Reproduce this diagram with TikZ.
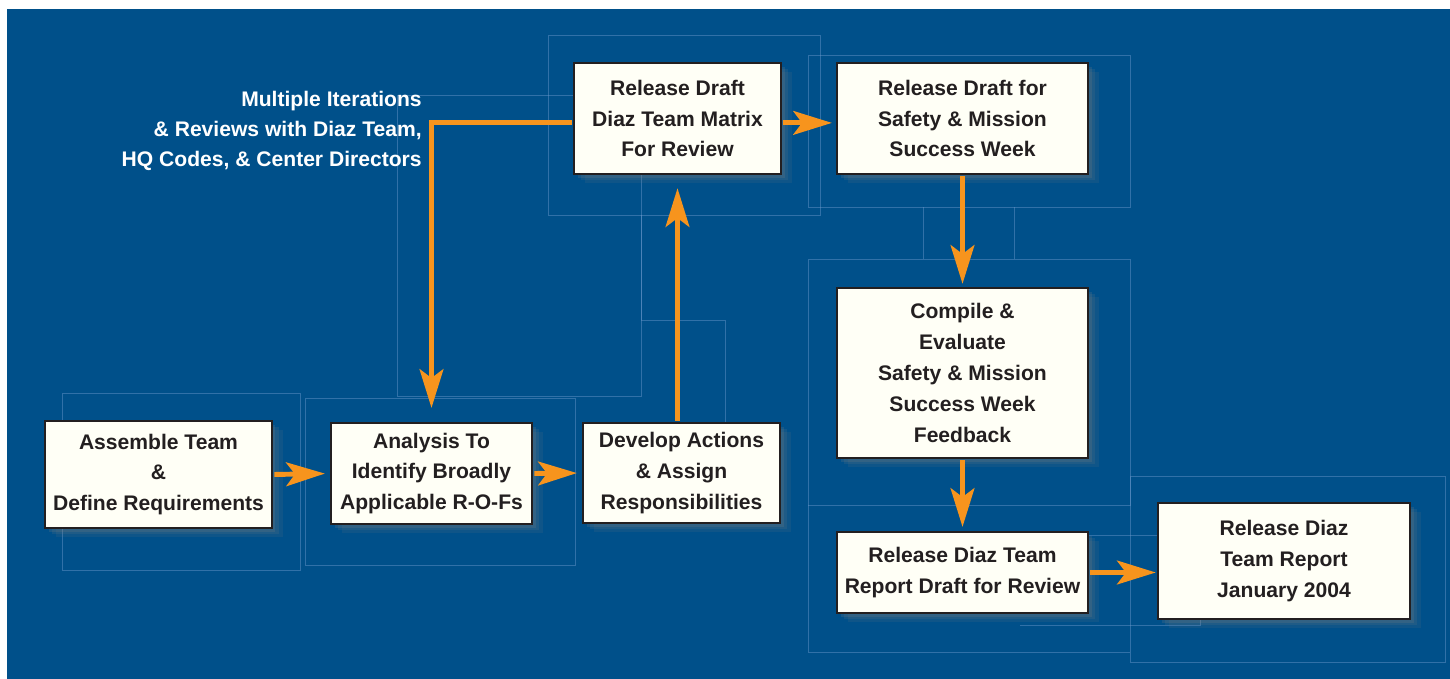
\documentclass[tikz,border=0pt]{standalone}
\usepackage{fontspec}
\setmainfont{Liberation Sans}
\usetikzlibrary{arrows.meta,positioning,shadows}
\definecolor{bgblue}{RGB}{0,80,138}
\definecolor{cream}{RGB}{255,255,246}
\definecolor{arrorange}{RGB}{247,148,29}
\definecolor{inkgray}{RGB}{35,31,32}
\definecolor{gridblue}{RGB}{110,155,205}
\begin{document}
\begin{tikzpicture}[x=0.02cm,y=-0.02cm,
box/.style={draw=inkgray,line width=1.4pt,fill=cream,text=inkgray,align=center,inner sep=0pt,
  font=\bfseries\fontsize{12}{17.6}\selectfont,
  drop shadow={shadow xshift=6pt,shadow yshift=-5pt,opacity=.12},
  drop shadow={shadow xshift=4pt,shadow yshift=-3.5pt,opacity=.15},
  drop shadow={shadow xshift=2pt,shadow yshift=-2pt,opacity=.2}},
flow/.style={draw=arrorange,line width=2.8pt,shorten <=.7pt,-{Stealth[length=22pt,width=13.5pt,inset=5pt]}},
faint/.style={draw=gridblue,line width=.5pt,opacity=.45},
lbl/.style={text=white,align=right,inner sep=0pt,font=\bfseries\fontsize{12}{17}\selectfont}]
\useasboundingbox (0,0) rectangle (1450,679);
\fill[white] (0,0) rectangle (1450,679);
\fill[bgblue] (7,9) rectangle (1450,679);
\foreach \a/\b/\c/\d in {62/393/300/570,305/398/575/565,548/35/820/215,808/55/1130/207,
  808/259/1130/505,1130/476/1445/662,397/95/641/396}
  \draw[faint] (\a,\b) rectangle (\c,\d);
\draw[faint] (641,215) -- (641,320) -- (725,320) -- (725,423);
\draw[faint] (923,207) -- (923,259) (1014,207) -- (1014,259);
\draw[faint] (808,505) -- (808,652) -- (1130,652);
\draw[faint] (1020,535) -- (1200,535) -- (1200,625) -- (1020,625);
\node[box,minimum width=4.54cm,minimum height=2.14cm] (A1) at (158.5,474.5) {Assemble Team\\\&\\Define Requirements};
\node[box,minimum width=4.02cm,minimum height=2.02cm] (A2) at (431.5,473.5) {Analysis To\\Identify Broadly\\Applicable R-O-Fs};
\node[box,minimum width=3.94cm,minimum height=2.0cm] (A3) at (681.5,473) {Develop Actions\\\& Assign\\Responsibilities};
\node[box,minimum width=4.14cm,minimum height=2.22cm] (A4) at (677.5,118.5) {Release Draft\\Diaz Team Matrix\\For Review};
\node[box,minimum width=5.02cm,minimum height=2.22cm] (A5) at (962.5,118.5) {Release Draft for\\Safety \& Mission\\Success Week};
\node[box,minimum width=5.02cm,minimum height=3.4cm] (A6) at (962.5,373) {Compile \&\\Evaluate\\Safety \& Mission\\Success Week\\Feedback};
\node[box,minimum width=5.02cm,minimum height=1.62cm] (A7) at (962.5,572.5) {Release Diaz Team\\Report Draft for Review};
\node[box,minimum width=5.04cm,minimum height=2.32cm] (A8) at (1284,561) {Release Diaz\\Team Report\\January 2004};
\node[lbl,anchor=east] (N1) at (422,131) {Multiple Iterations\\\& Reviews with Diaz Team,\\HQ Codes, \& Center Directors};
\draw[flow,shorten >=2.8pt] (A1.east) -- (A2.west);
\draw[flow,shorten >=2.8pt] (A2.east) -- (A3.west);
\draw[flow,shorten >=7.4pt] (A3.north -| A4.south) -- (A4.south);
\draw[flow,shorten >=2.2pt] ([yshift=-2.5pt]A4.east) -- ([yshift=-2.5pt]A5.west);
\draw[flow,shorten >=7.9pt] ([yshift=-2.5pt]A4.west) -| (A2.north);
\draw[flow,shorten >=1.7pt] (A5.south) -- (A6.north);
\draw[flow,shorten >=2.2pt] (A6.south) -- (A7.north);
\draw[flow,shorten >=.6pt] (A7.east) -- (A7.east -| A8.west);
\end{tikzpicture}
\end{document}
